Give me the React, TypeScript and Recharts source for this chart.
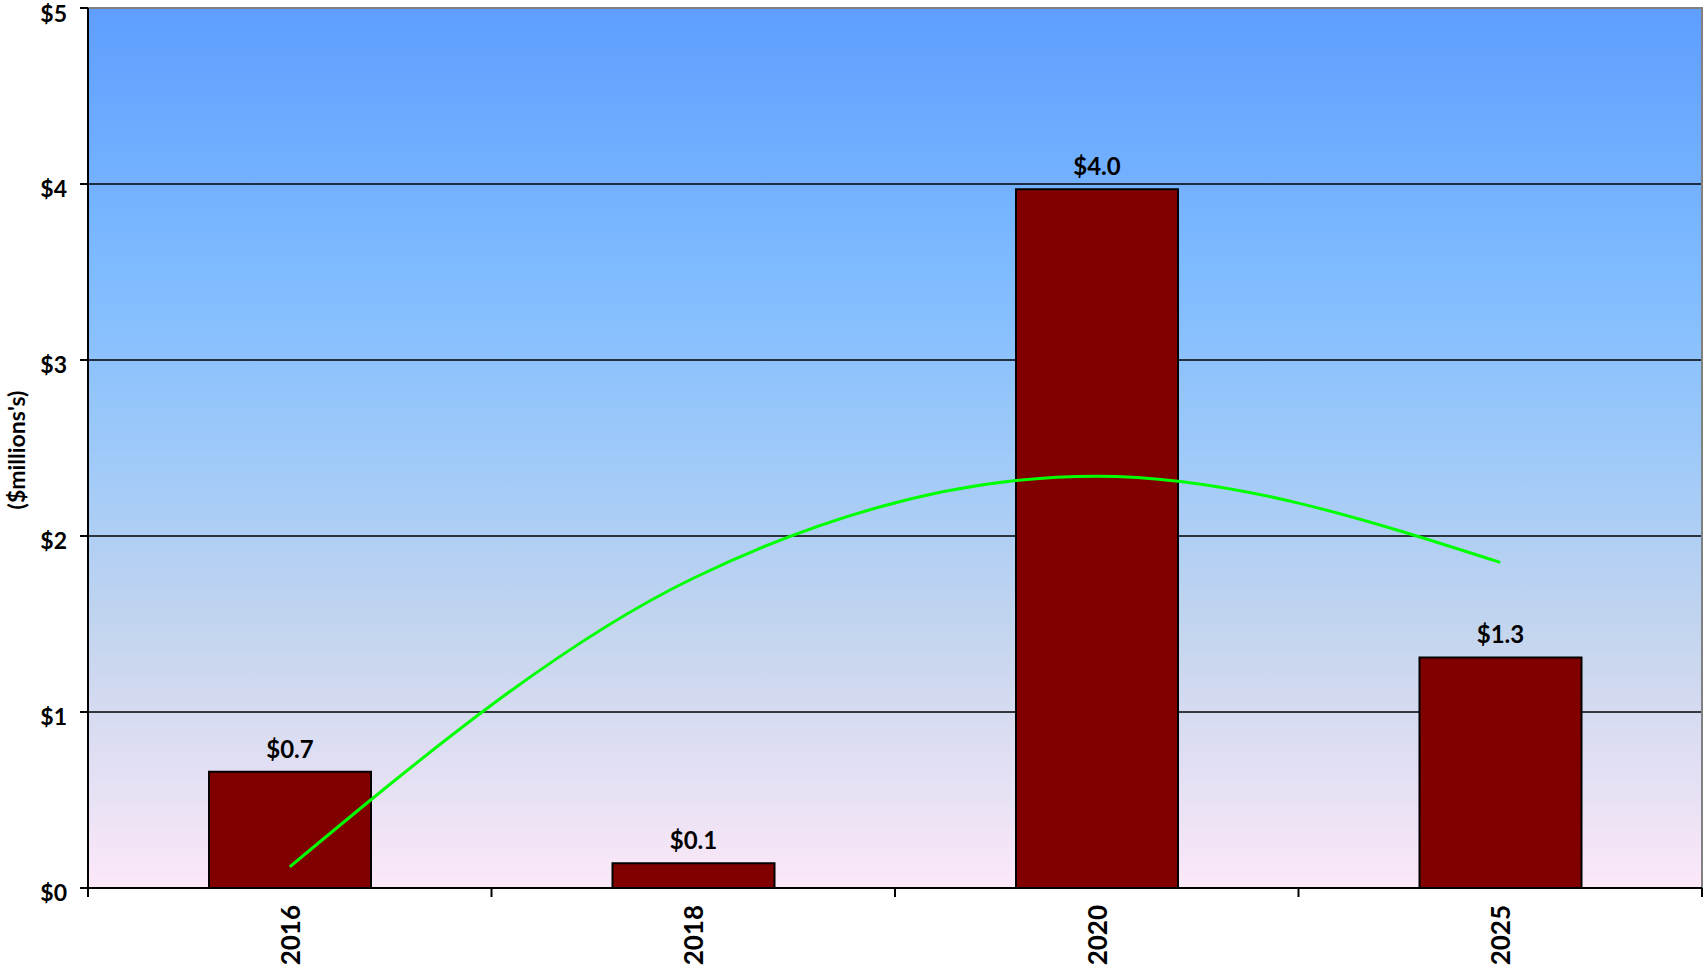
import React from "react";
import {
  ComposedChart,
  Bar,
  Line,
  XAxis,
  YAxis,
  CartesianGrid,
  LabelList,
  ReferenceArea,
} from "recharts";

const positions = [1, 2, 3, 4];
const years = ["2016", "2018", "2020", "2025"];
const amounts = [0.66, 0.14, 3.97, 1.31];
const trend = [0.12, 1.76, 2.34, 1.85];
const yTicks = [0, 1, 2, 3, 4, 5];
const xTicks = [0.5, 1, 1.5, 2, 2.5, 3, 3.5, 4, 4.5];
const yTitle = "($millions's)";

const data = positions.map((p, i) => ({
  pos: p,
  year: years[i],
  amount: amounts[i],
  trend: trend[i],
}));

const FONT = "Lato, 'Open Sans', sans-serif";

const XTick = (props: any) => {
  const { x, y, payload } = props;
  const v = payload.value as number;
  if (Number.isInteger(v)) {
    const label = years[positions.indexOf(v)];
    return (
      <text
        x={0}
        y={0}
        transform={`translate(${x}, ${y + 17}) rotate(-90)`}
        textAnchor="end"
        dominantBaseline="central"
        fontFamily={FONT}
        fontWeight="bold"
        fontSize={26}
        fill="#000"
      >
        {label}
      </text>
    );
  }
  return <line x1={x} x2={x} y1={y} y2={y + 9} stroke="#000" strokeWidth={2} />;
};

const YTick = (props: any) => {
  const { x, y, payload } = props;
  return (
    <text
      x={x}
      y={y + 4}
      textAnchor="end"
      dominantBaseline="central"
      fontFamily={FONT}
      fontWeight="bold"
      fontSize={23}
      fill="#000"
    >
      {`$${payload.value}`}
    </text>
  );
};

const YTitle = (props: any) => {
  const vb = props.viewBox || {};
  const cx = (vb.x || 0) + 16;
  const cy = (vb.y || 0) + (vb.height || 0) / 2 + 2;
  return (
    <text
      x={0}
      y={0}
      transform={`translate(${cx}, ${cy}) rotate(-90)`}
      textAnchor="middle"
      dominantBaseline="central"
      fontFamily={FONT}
      fontWeight="bold"
      fontSize={23}
      fill="#000"
    >
      {yTitle}
    </text>
  );
};

export default function App() {
  return (
    <div style={{ position: "absolute", left: 0, top: 0, width: 1703, height: 970, background: "#fff" }}>
      <ComposedChart
        width={1703}
        height={970}
        data={data}
        margin={{ top: 8, right: 1, bottom: 0, left: 0 }}
      >
        <defs>
          <linearGradient id="bg" x1="0" y1="0" x2="0" y2="1">
            <stop offset="0%" stopColor="#5e9eff" />
            <stop offset="30%" stopColor="#7ebbff" />
            <stop offset="50%" stopColor="#9dc9f9" />
            <stop offset="71%" stopColor="#c4d5ee" />
            <stop offset="100%" stopColor="#fce8f8" />
          </linearGradient>
        </defs>
        <CartesianGrid
          vertical={false}
          stroke="#000"
          strokeWidth={1.5}
          fill="url(#bg)"
          fillOpacity={1}
        />
        <ReferenceArea
          y1={0}
          y2={5}
          fill="none"
          stroke="#808080"
          strokeWidth={2}
          ifOverflow="visible"
        />
        <XAxis
          dataKey="pos"
          type="number"
          domain={[0.5, 4.5]}
          ticks={xTicks}
          interval={0}
          height={82}
          tickLine={false}
          tickSize={0}
          tickMargin={0}
          axisLine={{ stroke: "#000", strokeWidth: 2 }}
          tick={<XTick />}
        />
        <YAxis
          domain={[0, 5]}
          ticks={yTicks}
          width={88}
          tickSize={8}
          tickMargin={13}
          tickLine={{ stroke: "#000", strokeWidth: 2 }}
          axisLine={{ stroke: "#000", strokeWidth: 2 }}
          tick={<YTick />}
          label={<YTitle />}
        />
        <Bar
          dataKey="amount"
          barSize={162}
          fill="#800000"
          stroke="#000"
          strokeWidth={2}
          isAnimationActive={false}
        >
          <LabelList
            dataKey="amount"
            position="top"
            offset={14}
            formatter={(v: any) => `$${Number(v).toFixed(1)}`}
            style={{ fontFamily: FONT, fontWeight: "bold", fontSize: 24, fill: "#000" }}
          />
        </Bar>
        <Line
          dataKey="trend"
          type="monotone"
          stroke="#00ff00"
          strokeWidth={3}
          dot={false}
          isAnimationActive={false}
        />
      </ComposedChart>
    </div>
  );
}
